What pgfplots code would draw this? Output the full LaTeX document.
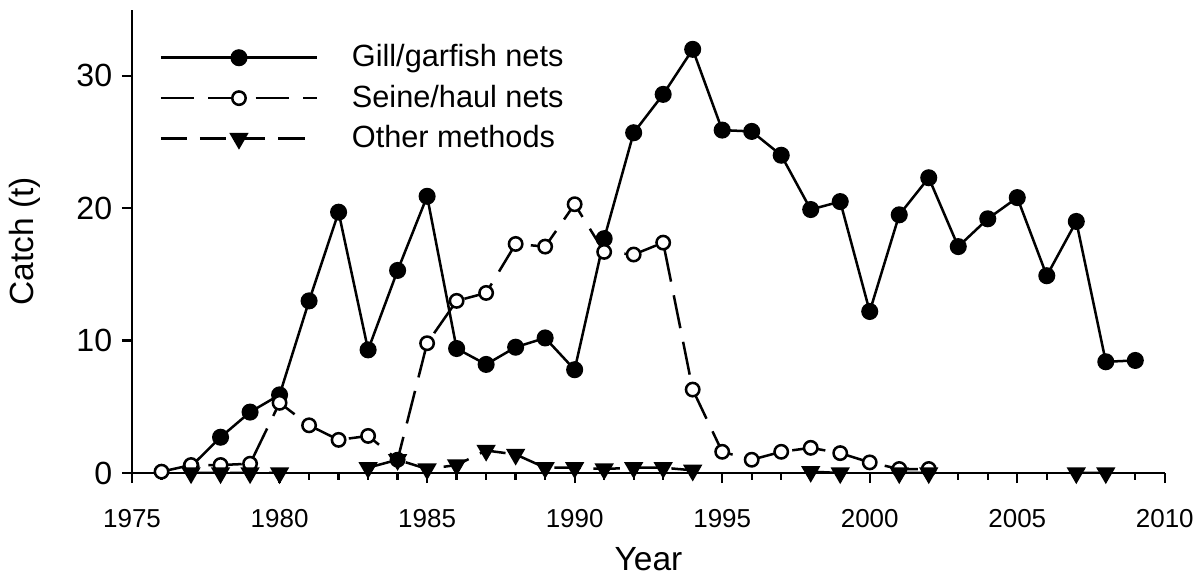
\documentclass[border=0pt]{standalone}
\usepackage{fontspec}
\setmainfont{Liberation Sans}
\usepackage{pgfplots}
\pgfplotsset{compat=1.18}

\pgfplotstableread{
year gill seine other
1976 nan  0.1  nan
1977 0.5  0.6  0.0
1978 2.7  0.6  0.0
1979 4.6  0.7  0.0
1980 5.9  5.3  0.0
1981 13.0 3.6  nan
1982 19.7 2.5  nan
1983 9.3  2.8  0.4
1984 15.3 1.0  1.0
1985 20.9 9.8  0.3
1986 9.4  13.0 0.6
1987 8.2  13.6 1.7
1988 9.5  17.3 1.4
1989 10.2 17.1 0.4
1990 7.8  20.3 0.4
1991 17.7 16.7 0.3
1992 25.7 16.5 0.4
1993 28.6 17.4 0.4
1994 32.0 6.3  0.2
1995 25.9 1.6  nan
1996 25.8 1.0  nan
1997 24.0 1.6  nan
1998 19.9 1.9  0.1
1999 20.5 1.5  0.0
2000 12.2 0.8  nan
2001 19.5 0.3  0.0
2002 22.3 0.3  0.0
2003 17.1 nan  nan
2004 19.2 nan  nan
2005 20.8 nan  nan
2006 14.9 nan  nan
2007 19.0 nan  0.0
2008 8.4  nan  0.0
2009 8.5  nan  nan
}\catch

\begin{document}
\begin{tikzpicture}
  \begin{axis}[
      scale only axis,
      width=370pt, height=166pt,
      xmin=1975, xmax=2010,
      ymin=0, ymax=35,
      axis lines*=left,
      axis line style={line width=0.9pt},
      xtick={1975,1980,...,2010},
      minor xtick={1976,...,2009},
      ytick={0,10,20,30},
      tick align=outside,
      major tick length=3.6pt,
      minor tick length=2.4pt,
      every tick/.style={black, line width=0.8pt},
      xticklabel shift=6pt,
      yticklabel shift=0pt,
      xticklabel style={font=\fontsize{9.3}{11}\selectfont, /pgf/number format/1000 sep={}},
      yticklabel style={font=\fontsize{11.5}{13}\selectfont},
      /pgf/number format/assume math mode=true,
      xlabel={Year}, ylabel={Catch (t)},
      label style={font=\fontsize{12}{14}\selectfont},
      xlabel style={yshift=0pt},
      ylabel style={yshift=6pt},
      unbounded coords=jump,
      legend style={draw=none, fill=none, at={(0.018,0.95)}, anchor=north west,
        font=\fontsize{11}{13}\selectfont, row sep=1pt,
        /tikz/every even column/.append style={column sep=0pt}},
      legend cell align=left,
      legend image code/.code={%
        \draw[mark repeat=2, mark phase=2] plot coordinates {(0pt,0pt) (28pt,0pt) (56pt,0pt)};%
        \node at (62pt,0pt) {};},
    ]
    \addplot[black, line width=0.9pt, mark=*, mark size=2.6pt, mark options={solid, fill=black}]
      table[x=year, y=gill] {\catch};
    \addlegendentry{Gill/garfish nets}
    \addplot[black, line width=0.9pt, dash pattern=on 12pt off 5pt, mark=*, mark size=2.4pt, mark options={solid, fill=white, line width=0.9pt}]
      table[x=year, y=seine] {\catch};
    \addlegendentry{Seine/haul nets}
    \addplot[black, line width=0.9pt, dash pattern=on 9.5pt off 4.5pt, mark=triangle*, mark size=3.1pt, mark options={solid, fill=black, rotate=180}]
      table[x=year, y=other] {\catch};
    \addlegendentry{Other methods}
  \end{axis}
  \path (current bounding box.north) ++(0,3pt);
\end{tikzpicture}
\end{document}
